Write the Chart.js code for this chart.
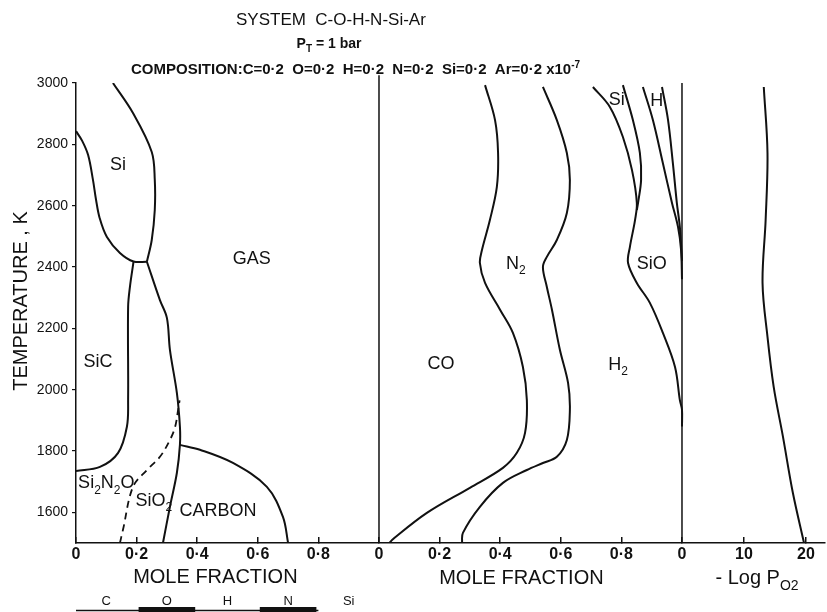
<!DOCTYPE html>
<html><head><meta charset="utf-8">
<script src="https://cdn.jsdelivr.net/npm/chart.js@4.4.0/dist/chart.umd.min.js"></script>
<style>html,body{margin:0;padding:0;background:#fff}canvas{display:block}</style>
</head><body>
<canvas id="c" width="827" height="612"></canvas>
<script>
// ---------------- data ----------------
const tempTicks = [1600, 1800, 2000, 2200, 2400, 2600, 2800, 3000];
const moleTicks = [0, 0.2, 0.4, 0.6, 0.8];
const logTicks = [0, 10, 20];
const compLabels = ['C', 'O', 'H', 'N', 'Si'];

// left panel: condensed-phase field boundaries  [mole fraction, T (K)]
const siLowerEdge = [[0,2843],[0.02,2812],[0.04,2765],[0.056,2684],[0.066,2620],[0.078,2560],[0.102,2498],[0.145,2446],[0.19,2418],[0.234,2417]];
const siUpperEdge = [[0.122,3000],[0.188,2902],[0.25,2775],[0.26,2684],[0.26,2586],[0.25,2488],[0.234,2417]];
const sicEdge     = [[0.19,2418],[0.178,2335],[0.172,2270],[0.172,1967],[0.168,1879],[0.139,1794],[0.079,1748],[0,1735]];
const gasEdge     = [[0.234,2417],[0.277,2292],[0.30,2234],[0.31,2130],[0.333,1989],[0.343,1879],[0.343,1820],[0.333,1729],[0.31,1618],[0.287,1500]];
const carbonEdge  = [[0.343,1820],[0.409,1804],[0.518,1761],[0.63,1683],[0.683,1585],[0.70,1500]];
const sio2Edge    = [[0.145,1500],[0.155,1543],[0.188,1683],[0.234,1738],[0.277,1781],[0.31,1836],[0.327,1878],[0.337,1934],[0.342,1965]];

// middle panel: cumulative gas mole fractions  [mole fraction, T (K)]
const coCurve  = [[0.35,2993],[0.383,2879],[0.393,2772],[0.389,2661],[0.366,2553],[0.34,2456],[0.333,2413],[0.35,2348],[0.40,2260],[0.442,2185],[0.475,2074],[0.488,1966],[0.482,1859],[0.455,1794],[0.409,1745],[0.30,1680],[0.158,1598],[0.043,1510],[0.035,1500]];
const n2Curve  = [[0.541,2987],[0.587,2879],[0.62,2772],[0.63,2684],[0.62,2576],[0.587,2488],[0.554,2433],[0.541,2400],[0.554,2335],[0.571,2260],[0.597,2130],[0.624,2022],[0.63,1934],[0.62,1836],[0.587,1781],[0.541,1761],[0.488,1738],[0.409,1696],[0.333,1618],[0.277,1533],[0.274,1500]];
const h2Curve  = [[0.706,2987],[0.762,2922],[0.805,2824],[0.835,2716],[0.851,2609],[0.845,2553],[0.828,2465],[0.822,2413],[0.851,2348],[0.894,2283],[0.937,2185],[0.977,2074],[0.993,1966],[1.0,1934],[1.0,1880]];
const sioCurve = [[0.805,2993],[0.838,2879],[0.861,2772],[0.865,2684],[0.855,2609],[0.851,2586]];
const siCurve  = [[0.871,2987],[0.904,2879],[0.937,2738],[0.967,2609],[0.987,2530],[0.997,2456],[1.0,2360]];
const hCurve   = [[0.934,2987],[0.954,2879],[0.97,2738],[0.983,2609],[0.993,2530],[1.0,2420]];

// right panel: -log pO2  [value, T (K)]
const logPO2 = [[13.2,2987],[13.8,2772],[13.5,2553],[13.0,2348],[13.8,2172],[14.8,2009],[16.3,1846],[17.9,1663],[19.7,1500]];

// panel frames
const panelEdge = [[0,1500],[0,3000]];
const midEdge = [[0,1500],[0,3025]];

// ---------------- layout constants ----------------
const XMAX = 2.472;        // width of plot in left-panel mole-fraction units
const LOGK = 48.9;         // -log pO2 units per mole-fraction unit
const FONT = '"Liberation Sans", Arial, Helvetica, sans-serif';
const INK = '#111';

Chart.defaults.font.family = FONT;
Chart.defaults.color = INK;

const combinedTicks = [
  ...moleTicks.map(v => ({v, lab: v})),
  ...moleTicks.map(v => ({v: 1 + v, lab: v})),
  ...logTicks.map(v => ({v: 2 + v / LOGK, lab: v}))
];
function fmtTick(lab) { return lab === 0 ? '0' : (lab < 1 ? lab.toFixed(1).replace('.', '\u00b7') : String(lab)); }

function line(pts, axis, opt) {
  return Object.assign({
    data: pts.map(([x, y]) => ({x, y})),
    xAxisID: axis, yAxisID: 'y',
    borderColor: INK, borderWidth: 2, pointRadius: 0,
    showLine: true, tension: 0.35, fill: false
  }, opt || {});
}

// ---------------- text helpers ----------------
function parseRich(s) {
  const out = []; let i = 0, buf = '';
  while (i < s.length) {
    const c = s[i];
    if ((c === '_' || c === '^') && i + 1 < s.length) {
      if (buf) { out.push({t: buf, m: 0}); buf = ''; }
      let t;
      if (s[i + 1] === '{') { const j = s.indexOf('}', i + 2); t = s.slice(i + 2, j); i = j + 1; }
      else { t = s[i + 1]; i += 2; }
      out.push({t, m: c === '_' ? 1 : -1});
    } else { buf += c; i++; }
  }
  if (buf) out.push({t: buf, m: 0});
  return out;
}
function drawRich(ctx, s, x, y, size, weight, align) {
  const segs = parseRich(s);
  const f = sz => `${weight} ${sz}px ${FONT}`;
  let w = 0;
  segs.forEach(g => { ctx.font = f(g.m ? Math.round(size * 0.68) : size); g.w = ctx.measureText(g.t).width; w += g.w; });
  let cx = align === 'center' ? x - w / 2 : (align === 'right' ? x - w : x);
  ctx.textAlign = 'left'; ctx.textBaseline = 'alphabetic';
  segs.forEach(g => {
    ctx.font = f(g.m ? Math.round(size * 0.68) : size);
    const dy = g.m === 1 ? size * 0.28 : (g.m === -1 ? -size * 0.42 : 0);
    ctx.fillText(g.t, cx, y + dy);
    cx += g.w;
  });
}

const fieldLabels = [
  {t: 'Si', ax: 'x', x: 0.139, T: 2736},
  {t: 'GAS', ax: 'x', x: 0.58, T: 2430},
  {t: 'SiC', ax: 'x', x: 0.073, T: 2094},
  {t: 'Si_2N_2O', ax: 'x', x: 0.10, T: 1699},
  {t: 'SiO_2', ax: 'x', x: 0.257, T: 1641},
  {t: 'CARBON', ax: 'x', x: 0.469, T: 1608},
  {t: 'CO', ax: 'xM', x: 0.205, T: 2087},
  {t: 'N_2', ax: 'xM', x: 0.452, T: 2416},
  {t: 'H_2', ax: 'xM', x: 0.789, T: 2084},
  {t: 'SiO', ax: 'xM', x: 0.90, T: 2416},
  {t: 'Si', ax: 'xM', x: 0.785, T: 2948},
  {t: 'H', ax: 'xM', x: 0.917, T: 2945}
];

const textPlugin = {
  id: 'texts',
  afterDraw(chart) {
    const ctx = chart.ctx, ca = chart.chartArea;
    const xs = chart.scales.x, ys = chart.scales.y, xr = chart.scales.xR;
    ctx.save();
    ctx.fillStyle = INK; ctx.strokeStyle = INK;
    // header
    drawRich(ctx, 'SYSTEM  C-O-H-N-Si-Ar', 236, 25, 17, 'normal', 'left');
    drawRich(ctx, 'P_T = 1 bar', 329, 48, 14, 'bold', 'center');
    drawRich(ctx, 'COMPOSITION:C=0\u00b72  O=0\u00b72  H=0\u00b72  N=0\u00b72  Si=0\u00b72  Ar=0\u00b72 x10^{-7}', 131, 74, 15, 'bold', 'left');
    // field labels
    fieldLabels.forEach(l => {
      const px = chart.scales[l.ax].getPixelForValue(l.x);
      const py = ys.getPixelForValue(l.T);
      drawRich(ctx, l.t, px, py + 6.5, 18, 'normal', 'center');
    });
    // y axis title
    ctx.save();
    ctx.translate(20, (ca.top + ca.bottom) / 2 - 12);
    ctx.rotate(-Math.PI / 2);
    drawRich(ctx, 'TEMPERATURE , K', 0, 7, 20, 'normal', 'center');
    ctx.restore();
    // x axis titles
    drawRich(ctx, 'MOLE FRACTION', xs.getPixelForValue(0.46), ca.bottom + 40, 20, 'normal', 'center');
    drawRich(ctx, 'MOLE FRACTION', xs.getPixelForValue(1.47), ca.bottom + 41, 20, 'normal', 'center');
    drawRich(ctx, '- Log P_{O2}', xr.getPixelForValue(5.4), ca.bottom + 41, 20, 'normal', 'left');
    // composition strip
    compLabels.forEach((lab, i) => {
      drawRich(ctx, lab, xs.getPixelForValue(i * 0.2 + 0.1), 605, 13, 'normal', 'center');
    });
    ctx.lineWidth = 1.5;
    ctx.beginPath();
    ctx.moveTo(xs.getPixelForValue(0), 610.5);
    ctx.lineTo(xs.getPixelForValue(0.8), 610.5);
    ctx.stroke();
    [1, 3].forEach(i => {
      const a = xs.getPixelForValue(i * 0.2), b = xs.getPixelForValue(i * 0.2 + 0.2);
      ctx.fillRect(a + 2, 607, b - a - 4, 6);
    });
    ctx.restore();
  }
};

new Chart(document.getElementById('c'), {
  type: 'scatter',
  data: {
    datasets: [
      line(siLowerEdge, 'x'),
      line(siUpperEdge, 'x'),
      line(sicEdge, 'x'),
      line(gasEdge, 'x'),
      line(carbonEdge, 'x'),
      line(sio2Edge, 'x', {borderDash: [7, 5], borderWidth: 1.8}),
      line(coCurve, 'xM'),
      line(n2Curve, 'xM'),
      line(h2Curve, 'xM'),
      line(sioCurve, 'xM'),
      line(siCurve, 'xM'),
      line(hCurve, 'xM'),
      line(logPO2, 'xR'),
      line(midEdge, 'xM', {borderWidth: 1.5, tension: 0, clip: false}),
      line(panelEdge, 'xR', {borderWidth: 1.5, tension: 0})
    ]
  },
  options: {
    responsive: false,
    animation: false,
    devicePixelRatio: 1,
    layout: {padding: {top: 83, right: 2, left: 0, bottom: 0}},
    plugins: {legend: {display: false}, tooltip: {enabled: false}, title: {display: false}},
    scales: {
      x: {
        type: 'linear', axis: 'x', position: 'bottom', min: 0, max: XMAX,
        afterBuildTicks: s => { s.ticks = combinedTicks.map(t => ({value: t.v})); },
        afterFit: s => { s.height = 69; },
        ticks: {
          autoSkip: false, maxRotation: 0, padding: 8, color: INK,
          font: {size: 16, weight: 'bold'},
          callback: (v) => { const t = combinedTicks.find(c => Math.abs(c.v - v) < 1e-6); return t ? fmtTick(t.lab) : ''; }
        },
        grid: {drawOnChartArea: false, drawTicks: true, tickLength: -6, color: INK, lineWidth: 1.5},
        border: {display: true, color: INK, width: 1.5}
      },
      xM: {type: 'linear', axis: 'x', position: 'bottom', display: false, min: -1, max: XMAX - 1},
      xR: {type: 'linear', axis: 'x', position: 'bottom', display: false, min: -2 * LOGK, max: (XMAX - 2) * LOGK},
      y: {
        type: 'linear', position: 'left', min: 1500, max: 3000,
        afterBuildTicks: s => { s.ticks = tempTicks.map(v => ({value: v})); },
        afterFit: s => { s.width = 76; },
        ticks: {autoSkip: false, padding: 4, color: INK, font: {size: 14}, callback: v => String(v)},
        grid: {drawOnChartArea: false, drawTicks: true, tickLength: 4, color: INK, lineWidth: 1.2},
        border: {display: true, color: INK, width: 1.5}
      }
    }
  },
  plugins: [textPlugin]
});
</script>
</body></html>
